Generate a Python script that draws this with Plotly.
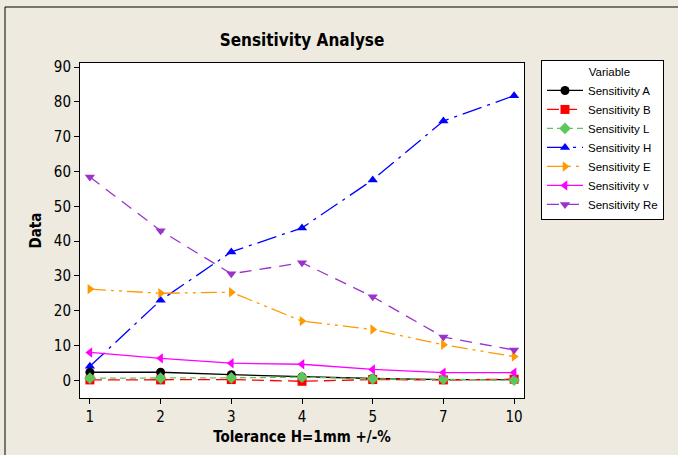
import plotly.graph_objects as go

categories = ["1", "2", "3", "4", "5", "7", "10"]
sens_A = [2.3, 2.3, 1.6, 0.95, 0.5, 0.2, 0.2]
sens_B = [0.1, 0.1, 0.2, -0.3, 0.2, 0.1, 0.3]
sens_L = [0.6, 0.6, 0.7, 0.9, 0.4, 0.3, 0.0]
sens_H = [4.0, 23.0, 36.9, 43.8, 57.6, 74.5, 81.8]
sens_E = [26.2, 25.0, 25.3, 17.0, 14.6, 10.2, 6.8]
sens_v = [8.0, 6.3, 4.9, 4.6, 3.1, 2.2, 2.2]
sens_Re = [58.4, 43.0, 30.6, 33.8, 24.0, 12.4, 8.7]

series = [
    ("Sensitivity A", sens_A, "#000000", "solid", "circle"),
    ("Sensitivity B", sens_B, "#FF0000", "12px,6px", "square"),
    ("Sensitivity L", sens_L, "#5CC85C", "6px,4px", "diamond"),
    ("Sensitivity H", sens_H, "#0000FF", "20px,6px,3px,6px", "triangle-up"),
    ("Sensitivity E", sens_E, "#FF9900", "16px,5px,3px,5px,3px,5px", "triangle-right"),
    ("Sensitivity v", sens_v, "#FF00FF", "solid", "triangle-left"),
    ("Sensitivity Re", sens_Re, "#9933CC", "12px,8px", "triangle-down"),
]

fig = go.Figure()
for name, vals, color, dash, sym in series:
    fig.add_trace(go.Scatter(
        x=categories, y=vals, name=name, mode="lines+markers",
        line=dict(color=color, width=1.3, dash=dash),
        marker=dict(color=color, symbol=sym, size=9),
    ))

bg = "#EEEAE0"
fig.update_layout(
    width=678, height=455,
    paper_bgcolor=bg, plot_bgcolor="white",
    margin=dict(l=80, r=154, t=63, b=57),
    font=dict(family="DejaVu Sans Condensed, DejaVu Sans, sans-serif", size=13, color="black"),
    title=dict(text="<b>Sensitivity Analyse</b>", x=0.5, xanchor="center",
               xref="paper", y=1 - 40 / 455, yanchor="middle",
               font=dict(size=17)),
    xaxis=dict(type="category", range=[-0.14, 6.14], showgrid=False, zeroline=False,
               showline=True, linecolor="black", linewidth=1, mirror=True,
               ticks="outside", ticklen=5, tickcolor="black",
               tickfont=dict(size=15),
               title=dict(text="<b>Tolerance H=1mm +/-%</b>", font=dict(size=15), standoff=6)),
    yaxis=dict(range=[-5.1, 91.2], showgrid=False, zeroline=False,
               showline=True, linecolor="black", linewidth=1, mirror=True,
               ticks="outside", ticklen=5, tickcolor="black",
               tickvals=[0, 10, 20, 30, 40, 50, 60, 70, 80, 90],
               tickfont=dict(size=15),
               title=dict(text="<b>Data</b>", font=dict(size=15), standoff=8)),
    legend=dict(x=541 / 678, xref="container", y=1 - 60 / 455, yref="container",
                xanchor="left", yanchor="top",
                bgcolor="white", bordercolor="black", borderwidth=1,
                font=dict(size=11.5, family="Liberation Sans, Arial, sans-serif"),
                tracegroupgap=0, itemwidth=36,
                title=dict(text="              Variable", side="top",
                           font=dict(size=11.5, family="Liberation Sans, Arial, sans-serif"))),
    showlegend=True,
    shapes=[dict(type="rect", xref="paper", yref="paper",
                 x0=(5 - 80) / 444, x1=2.0, y0=-1.0, y1=(398 - 7) / 335,
                 line=dict(color="black", width=1), fillcolor="rgba(0,0,0,0)",
                 layer="below")],
)

fig.write_html("out.html", config={"displayModeBar": False},
               post_script="document.body.style.margin='0px';document.body.style.background='%s';" % bg)
